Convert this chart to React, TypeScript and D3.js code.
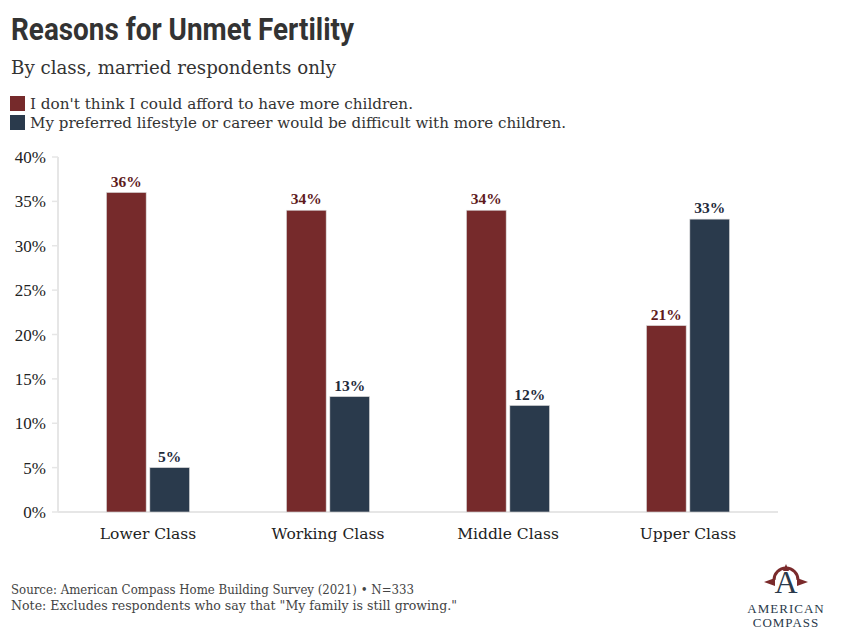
import * as d3 from 'd3';
import * as React from 'react';

const categories = ['Lower Class', 'Working Class', 'Middle Class', 'Upper Class'];
const seriesNames = [
    "I don't think I could afford to have more children.",
    'My preferred lifestyle or career would be difficult with more children.',
];
const afford = [36, 34, 34, 21];
const lifestyle = [5, 13, 12, 33];
const yTicks = [0, 5, 10, 15, 20, 25, 30, 35, 40];
const colors = ['#762a2b', '#2a3a4c'];
const labelColors = ['#5e1a1c', '#1e2a3a'];

const W = 862;
const H = 640;
const left = 58;
const right = 778;
const top = 157;
const bottom = 512;

const serif = '"DejaVu Serif", Georgia, serif';
const bookSerif = '"Liberation Serif", "DejaVu Serif", serif';

/**
 * Grouped bar chart
 */
export default function App() {
    const x = d3.scaleBand<string>().domain(categories).range([left, right]);
    const y = d3.scaleLinear().domain([0, 40]).range([bottom, top]);
    const sub = d3.scaleBand<number>().domain([0, 1]).range([0, 83]).paddingInner(0.085);
    const series = [afford, lifestyle];

    return (
        <svg width={W} height={H} style={{ display: 'block', position: 'absolute', left: 0, top: 0 }}>
            <rect width={W} height={H} fill="#fff" />
            <text x={11} y={40} fontFamily="Roboto, sans-serif" fontWeight={700} fontSize={31}
                fill="#333" textLength={343} lengthAdjust="spacingAndGlyphs">Reasons for Unmet Fertility</text>
            <text x={11} y={74} fontFamily={serif} fontSize={19} fill="#333"
                textLength={325} lengthAdjust="spacingAndGlyphs">By class, married respondents only</text>
            {seriesNames.map((s, i) => (
                <g key={s}>
                    <rect x={10} y={96 + i * 19} width={15} height={15} fill={colors[i]} />
                    <text x={30} y={109 + i * 19} fontFamily={serif} fontSize={15.5} fill="#333"
                        textLength={i === 0 ? 383 : 536} lengthAdjust="spacingAndGlyphs">{s}</text>
                </g>
            ))}
            <line x1={left} x2={left} y1={top} y2={bottom} stroke="#e6e6e6" strokeWidth={2} />
            <line x1={left} x2={right} y1={bottom} y2={bottom} stroke="#e6e6e6" strokeWidth={2} />
            {yTicks.map(t => (
                <g key={t}>
                    <line x1={left - 6} x2={left} y1={y(t)} y2={y(t)} stroke="#e6e6e6" strokeWidth={1.5} />
                    <text x={46} y={y(t) + 6} textAnchor="end" fontFamily={bookSerif} fontSize={17} fill="#222">{t}%</text>
                </g>
            ))}
            {categories.map((c, ci) => {
                const gx = (x(c) as number) + x.bandwidth() / 2 - 41.5;
                return (
                    <g key={c}>
                        {series.map((vals, si) => {
                            const bx = gx + (sub(si) as number);
                            return (
                                <g key={si}>
                                    <rect x={bx} y={y(vals[ci])} width={sub.bandwidth()} height={bottom - y(vals[ci])}
                                        fill={colors[si]} stroke="#d9d9d9" strokeWidth={0.6} />
                                    <text x={bx + sub.bandwidth() / 2} y={y(vals[ci]) - 6} textAnchor="middle"
                                        fontFamily={bookSerif} fontWeight={700} fontSize={15.5}
                                        fill={labelColors[si]}>{vals[ci]}%</text>
                                </g>
                            );
                        })}
                        <text x={(x(c) as number) + x.bandwidth() / 2} y={539} textAnchor="middle"
                            fontFamily={serif} fontSize={15.5} fill="#222">{c}</text>
                    </g>
                );
            })}
            <text x={11} y={594} fontFamily={serif} fontSize={12.5} fill="#444"
                textLength={403} lengthAdjust="spacingAndGlyphs">Source: American Compass Home Building Survey (2021) • N=333</text>
            <text x={11} y={610} fontFamily={serif} fontSize={12.5} fill="#444"
                textLength={446} lengthAdjust="spacingAndGlyphs">Note: Excludes respondents who say that "My family is still growing."</text>
            <g transform="translate(786,582)">
                <path d="M-12,-2 A12,12 0 0,1 12,-2" fill="none" stroke="#7a2a2b" strokeWidth={3} />
                <path d="M-22,0 L-11,-4 L-11,4 Z M22,0 L11,-4 L11,4 Z M0,-18 L-3,-11 L3,-11 Z" fill="#7a2a2b" />
                <text y={11} textAnchor="middle" fontFamily={bookSerif} fontSize={32} fill="#2a3a4c">A</text>
            </g>
            <text x={786} y={613} textAnchor="middle" fontFamily={bookSerif} fontSize={13} fill="#2a3a4c"
                letterSpacing={1}>AMERICAN</text>
            <text x={786} y={627} textAnchor="middle" fontFamily={bookSerif} fontSize={13} fill="#2a3a4c"
                letterSpacing={1}>COMPASS</text>
        </svg>
    );
}
